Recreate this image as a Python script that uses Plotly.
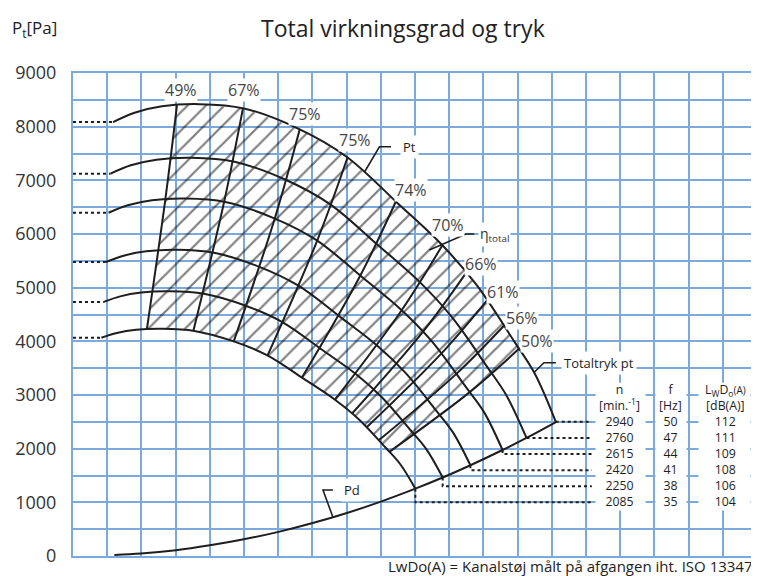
import plotly.graph_objects as go

FONT = "Open Sans"
GRID = "#7ba9dc"
INK = "#1e1e1e"
TXT = "#333333"

# fan speed curves: x = flow in grid units (no scale printed), y = total pressure [Pa]
q_2940 = [1.17, 1.80, 2.60, 3.70, 5.00, 6.60, 8.00, 9.50, 10.80, 11.80, 12.90, 13.50, 14.12]
pt_2940 = [8085, 8260, 8380, 8420, 8340, 7960, 7440, 6570, 5790, 5050, 4000, 3400, 2496]
q_2760 = [1.10, 1.69, 2.44, 3.47, 4.69, 6.20, 7.51, 8.92, 10.14, 11.08, 12.11, 12.67, 13.26]
pt_2760 = [7125, 7280, 7385, 7420, 7350, 7015, 6557, 5790, 5103, 4451, 3525, 2996, 2200]
q_2615 = [1.04, 1.60, 2.31, 3.29, 4.45, 5.87, 7.12, 8.45, 9.61, 10.50, 11.47, 12.01, 12.56]
pt_2615 = [6396, 6535, 6629, 6661, 6598, 6297, 5886, 5198, 4580, 3995, 3164, 2690, 1975]
q_2420 = [0.96, 1.48, 2.14, 3.05, 4.12, 5.43, 6.58, 7.82, 8.89, 9.71, 10.62, 11.11, 11.62]
pt_2420 = [5478, 5596, 5677, 5705, 5650, 5393, 5041, 4451, 3923, 3421, 2710, 2304, 1691]
q_2250 = [0.90, 1.38, 1.99, 2.83, 3.83, 5.05, 6.12, 7.27, 8.27, 9.03, 9.87, 10.33, 10.81]
pt_2250 = [4735, 4838, 4908, 4932, 4885, 4662, 4358, 3848, 3391, 2958, 2343, 1991, 1462]
q_2085 = [0.83, 1.28, 1.84, 2.62, 3.55, 4.68, 5.67, 6.74, 7.66, 8.37, 9.15, 9.57, 10.01]
pt_2085 = [4066, 4154, 4214, 4234, 4194, 4003, 3742, 3304, 2912, 2540, 2012, 1710, 1255]

# dynamic pressure curve
pd_x = [1.21, 1.99, 3.01, 4.00, 4.99, 6.01, 7.01, 8.01, 8.96, 10.01, 10.81, 11.62, 12.56, 13.26, 14.12]
pd_y = [19, 45, 108, 200, 311, 450, 614, 802, 1004, 1255, 1462, 1691, 1975, 2200, 2496]

# efficiency lines (lowest curve, middle curve, top curve)
eff_names = ["49%", "67%", "75%", "75%", "74%", "70%", "66%", "61%", "56%", "50%"]
eff_q_low = [2.16, 3.52, 4.70, 5.69, 6.70, 7.66, 8.16, 8.58, 8.94, 9.25]
eff_p_low = [4225, 4197, 3998, 3737, 3329, 2912, 2655, 2394, 2157, 1941]
eff_q_mid = [2.70, 4.42, 5.90, 7.14, 8.41, 9.61, 10.23, 10.76, 11.21, 11.60]
eff_p_mid = [6647, 6602, 6289, 5878, 5237, 4580, 4177, 3766, 3394, 3054]
eff_q_top = [3.04, 4.97, 6.63, 8.03, 9.45, 10.80, 11.50, 12.10, 12.60, 13.04]
eff_p_top = [8402, 8345, 7950, 7430, 6620, 5790, 5280, 4760, 4290, 3860]

# table
speeds = [2940, 2760, 2615, 2420, 2250, 2085]
freqs = [50, 47, 44, 41, 38, 35]
lwdo = [112, 111, 109, 108, 106, 104]
row_p = [2500, 2200, 1900, 1600, 1300, 1000]

curves = [(q_2940, pt_2940), (q_2760, pt_2760), (q_2615, pt_2615),
          (q_2420, pt_2420), (q_2250, pt_2250), (q_2085, pt_2085)]

fig = go.Figure()

# hatched area between 49% / 50% lines and top / bottom curve
hx = [eff_q_low[0], eff_q_mid[0], eff_q_top[0]]
hy = [eff_p_low[0], eff_p_mid[0], eff_p_top[0]]
for x, y in zip(q_2940, pt_2940):
    if eff_q_top[0] < x < eff_q_top[-1]:
        hx.append(x)
        hy.append(y)
hx += [eff_q_top[-1], eff_q_mid[-1], eff_q_low[-1]]
hy += [eff_p_top[-1], eff_p_mid[-1], eff_p_low[-1]]
for x, y in reversed(list(zip(q_2085, pt_2085))):
    if eff_q_low[0] < x < eff_q_low[-1]:
        hx.append(x)
        hy.append(y)
fig.add_trace(go.Scatter(
    x=hx, y=hy, fill='toself', mode='lines', line=dict(width=0),
    fillcolor='rgba(0,0,0,0)',
    fillpattern=dict(shape='/', size=13, solidity=0.17, fgcolor='#000000',
                     bgcolor='rgba(0,0,0,0)'),
    hoverinfo='skip', showlegend=False,
))

dot = dict(color=INK, width=2, dash='dot')
solid = dict(color=INK, width=2, shape='spline')

for (q, p), rp in zip(curves, row_p):
    fig.add_trace(go.Scatter(x=[0, q[0]], y=[p[0], p[0]], mode='lines', line=dot,
                             hoverinfo='skip', showlegend=False))
    fig.add_trace(go.Scatter(x=[q[-1], q[-1], 15.17], y=[p[-1], rp, rp], mode='lines',
                             line=dot, hoverinfo='skip', showlegend=False))
    fig.add_trace(go.Scatter(x=q, y=p, mode='lines', line=solid, showlegend=False))

for i in range(len(eff_names)):
    fig.add_trace(go.Scatter(
        x=[eff_q_low[i], eff_q_mid[i], eff_q_top[i]],
        y=[eff_p_low[i], eff_p_mid[i], eff_p_top[i]],
        mode='lines', line=solid, name=eff_names[i], showlegend=False,
    ))

fig.add_trace(go.Scatter(x=pd_x, y=pd_y, mode='lines', line=solid, showlegend=False))

# leader lines
lead = dict(color=INK, width=1.6)
for lx, ly in [([8.52, 8.96, 9.30], [7150, 7625, 7625]),
               ([10.42, 11.49, 11.73], [5700, 6000, 6000]),
               ([13.48, 13.77, 14.12], [3420, 3600, 3600]),
               ([7.60, 7.31, 7.60], [722, 1230, 1230])]:
    fig.add_trace(go.Scatter(x=lx, y=ly, mode='lines', line=lead,
                             hoverinfo='skip', showlegend=False))

ann = []
eff_lab_x = [3.16, 4.99, 6.79, 8.26, 9.88, 10.97, 11.92, 12.57, 13.14, 13.57]
eff_lab_y = [8682, 8682, 8235, 7750, 6819, 6167, 5440, 4928, 4443, 4005]
for name, x, y in zip(eff_names, eff_lab_x, eff_lab_y):
    ann.append(dict(x=x, y=y, text=name, showarrow=False, bgcolor='white', borderpad=0,
                    yanchor='middle', font=dict(size=16, color='#444444')))

small = dict(size=13, color=INK)
ann.append(dict(x=9.55, y=7625, text="Pt", xanchor='left', yanchor='middle', showarrow=False,
                bgcolor='white', borderpad=2, font=small))
ann.append(dict(x=11.85, y=6000, text="η<sub>total</sub>", xanchor='left', yanchor='middle',
                showarrow=False, bgcolor='white', borderpad=1, font=dict(size=14, color=TXT)))
ann.append(dict(x=14.27, y=3600, text="Totaltryk pt", xanchor='left', yanchor='middle',
                showarrow=False, bgcolor='white', borderpad=2, font=small))
ann.append(dict(x=7.85, y=1230, text="Pd", xanchor='left', yanchor='middle', showarrow=False,
                bgcolor='white', borderpad=2, font=small))

# table columns: one multi-line text block per column on a white box
col_x = [15.99, 17.46, 19.07]
heads = [("n", "[min.<sup>-1</sup>]"), ("f", "[Hz]"),
         ("L<sub>W</sub>D<sub>o</sub><span style='font-size:10px'>(A)</span>", "[dB(A)]")]
cols = [speeds, freqs, lwdo]
shapes = []
for cx, (h1, h2), vals, (x0, x1) in zip(col_x, heads, cols,
                                         [(15.28, 16.74), (17.03, 17.94), (18.29, 19.81)]):
    shapes.append(dict(type='rect', xref='x', yref='y', x0=x0, x1=x1, y0=850, y1=3230,
                       fillcolor='white', line=dict(width=0), layer='between'))
    block = "<br>".join([h1, h2] + [str(v) for v in vals])
    ann.append(dict(x=cx, y=(3100 + row_p[-1]) / 2, text=block, showarrow=False,
                    yanchor='middle', borderpad=0, font=dict(size=12.3, color=INK)))

# titles
ann.append(dict(xref='paper', yref='paper', x=0.4825, y=1.093, yanchor='middle',
                text="Total virkningsgrad og tryk", showarrow=False,
                font=dict(size=23, color='#222222')))
ann.append(dict(xref='paper', yref='paper', x=-0.092, y=1.093, xanchor='left', yanchor='middle',
                text="P<sub>t</sub>[Pa]", showarrow=False, font=dict(size=17, color='#222222')))
ann.append(dict(xref='paper', yref='paper', x=0.997, y=-0.021, xanchor='right', yanchor='middle',
                text="LwDo(A) = Kanalstøj målt på afgangen iht. ISO 13347", showarrow=False,
                font=dict(size=15, color='#222222')))

# page body has an 8 px margin, so the figure is 8 px smaller than the window
fig.update_layout(
    width=751, height=568, autosize=False,
    margin=dict(l=65, r=0, t=65, b=20),
    paper_bgcolor='white', plot_bgcolor='white',
    font=dict(family=FONT, color=TXT),
    annotations=ann, shapes=shapes, showlegend=False,
    xaxis=dict(range=[0, 20], tick0=0, dtick=1, showticklabels=False, ticks='',
               showgrid=True, gridcolor=GRID, gridwidth=2, zeroline=False,
               showline=True, linecolor=GRID, linewidth=2, mirror=True, fixedrange=True),
    yaxis=dict(range=[0, 9000], tick0=0, dtick=1000, ticks='', ticklabelstandoff=11,
               tickfont=dict(size=18, color=TXT),
               showgrid=True, gridcolor=GRID, gridwidth=2, zeroline=False,
               minor=dict(dtick=500, showgrid=True, gridcolor=GRID, gridwidth=2),
               showline=True, linecolor=GRID, linewidth=2, mirror=True, fixedrange=True),
)

fig.write_html("out.html")
